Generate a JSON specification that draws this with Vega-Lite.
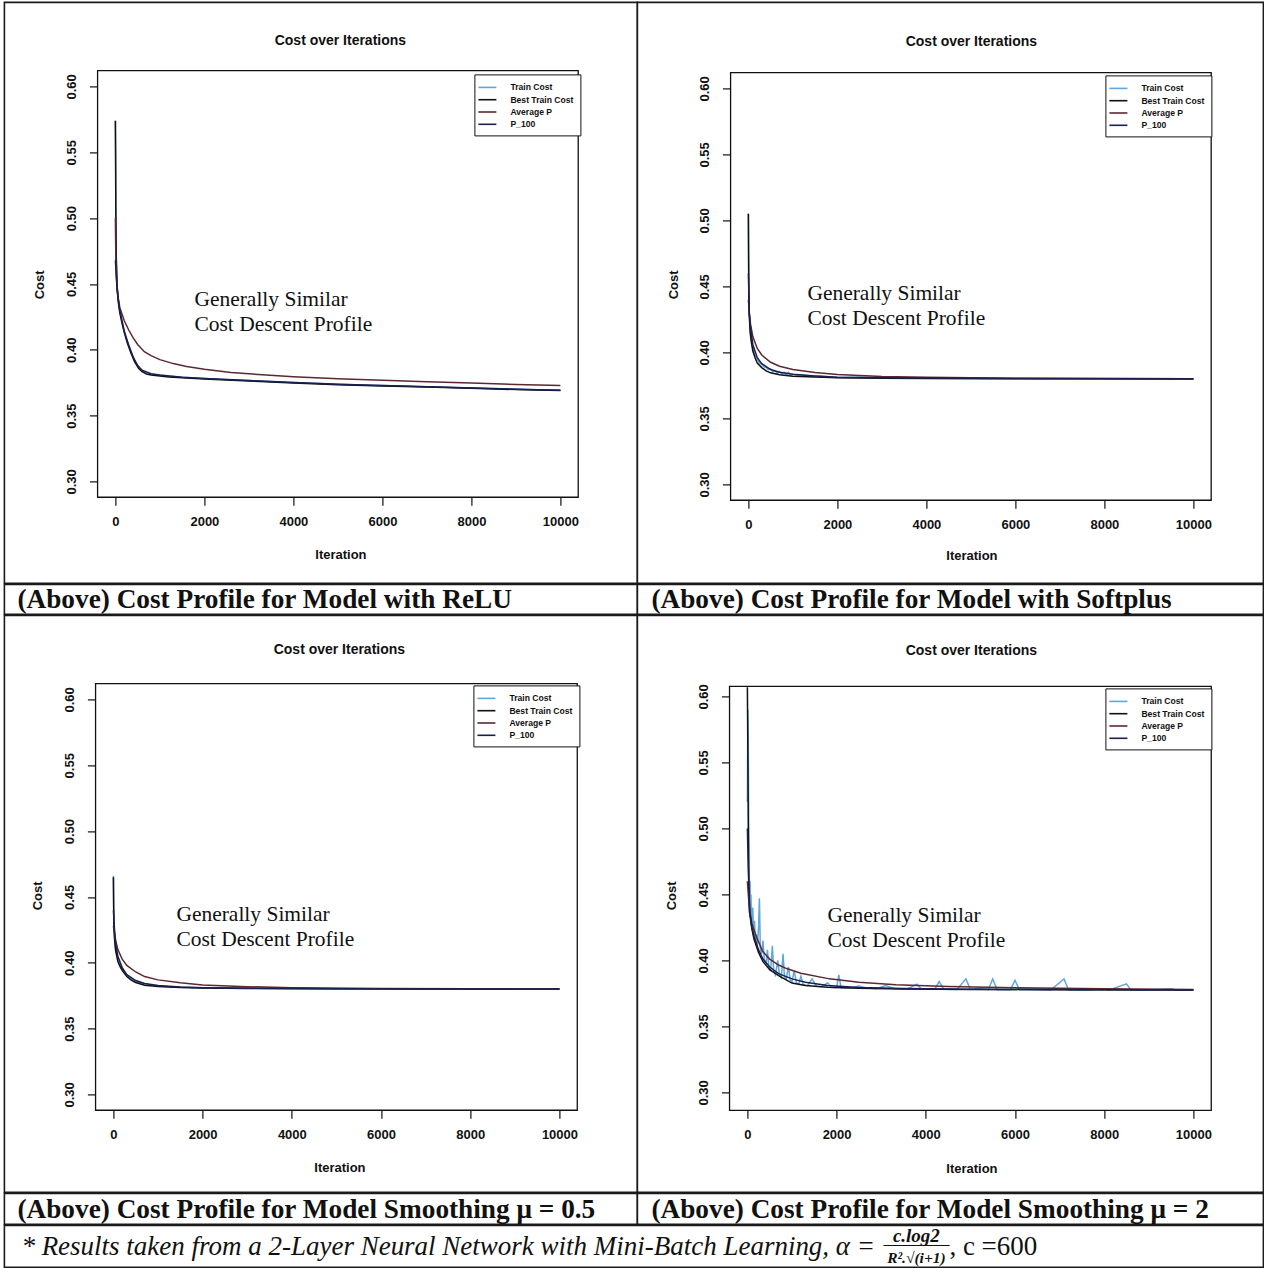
{
  "$schema": "https://vega.github.io/schema/vega-lite/v6.json",
  "padding": {"left": 3.4, "top": 1.4, "right": 0, "bottom": 0},
  "background": "white",
  "spacing": -3.2,
  "resolve": {"scale": {"color": "independent"}, "legend": {"color": "independent"}},
  "config": {
    "view": {"stroke": "#1a1a1a", "strokeWidth": 1.6, "fill": "white"},
    "axis": {"domain": false, "grid": false, "tickColor": "#111", "tickSize": 8, "tickWidth": 1.2, "labelColor": "#111", "labelFont": "Liberation Sans", "labelFontSize": 13, "labelFontWeight": "bold", "labelOverlap": false, "labelFlush": false, "labelBound": false, "titleColor": "#111", "titleFont": "Liberation Sans", "titleFontSize": 13, "titleFontWeight": "bold"},
    "axisX": {"labelPadding": 16, "labelBaseline": "middle", "labelAlign": "center", "labelAngle": 0, "titleBaseline": "middle", "titleAlign": "center"},
    "axisY": {"labelPadding": 18, "labelAngle": -90, "labelAlign": "center", "labelBaseline": "middle", "titleAngle": -90, "titleAlign": "center", "titleBaseline": "middle"},
    "legend": {"orient": "none", "title": null, "direction": "vertical", "strokeColor": "#111", "fillColor": "white", "padding": 6, "symbolType": "M-1.5,0H1.5", "symbolSize": 144, "symbolStrokeWidth": 1.6, "labelFontSize": 8.6, "labelFontWeight": "bold", "labelFont": "Liberation Sans", "labelColor": "#111", "labelOffset": 16, "rowPadding": 0.3},
    "title": {"font": "Liberation Sans", "fontSize": 14, "fontWeight": "bold", "color": "#111", "anchor": "middle", "frame": "group", "baseline": "middle"}
  },
  "vconcat": [
    {
      "hconcat": [
        {
          "width": 633, "height": 581,
          "title": {"text": "Cost over Iterations", "offset": -46, "dx": 19.5},
          "data": {"values": [
            {"series": "Train Cost", "iteration": 0, "cost": 0.574}, {"series": "Train Cost", "iteration": 5, "cost": 0.548}, {"series": "Train Cost", "iteration": 10, "cost": 0.506}, {"series": "Train Cost", "iteration": 20, "cost": 0.471}, {"series": "Train Cost", "iteration": 40, "cost": 0.448}, {"series": "Train Cost", "iteration": 70, "cost": 0.436}, {"series": "Train Cost", "iteration": 100, "cost": 0.429}, {"series": "Train Cost", "iteration": 150, "cost": 0.421}, {"series": "Train Cost", "iteration": 200, "cost": 0.414}, {"series": "Train Cost", "iteration": 270, "cost": 0.406}, {"series": "Train Cost", "iteration": 350, "cost": 0.3985}, {"series": "Train Cost", "iteration": 430, "cost": 0.392}, {"series": "Train Cost", "iteration": 520, "cost": 0.387}, {"series": "Train Cost", "iteration": 600, "cost": 0.384}, {"series": "Train Cost", "iteration": 700, "cost": 0.382}, {"series": "Train Cost", "iteration": 800, "cost": 0.3815}, {"series": "Train Cost", "iteration": 1000, "cost": 0.3806}, {"series": "Train Cost", "iteration": 1200, "cost": 0.3798}, {"series": "Train Cost", "iteration": 1500, "cost": 0.3791}, {"series": "Train Cost", "iteration": 2000, "cost": 0.3782}, {"series": "Train Cost", "iteration": 2600, "cost": 0.3773}, {"series": "Train Cost", "iteration": 3000, "cost": 0.3767}, {"series": "Train Cost", "iteration": 3500, "cost": 0.3759}, {"series": "Train Cost", "iteration": 4000, "cost": 0.3752}, {"series": "Train Cost", "iteration": 4500, "cost": 0.3745}, {"series": "Train Cost", "iteration": 5000, "cost": 0.3738}, {"series": "Train Cost", "iteration": 5500, "cost": 0.3733}, {"series": "Train Cost", "iteration": 6000, "cost": 0.3728}, {"series": "Train Cost", "iteration": 6500, "cost": 0.3724}, {"series": "Train Cost", "iteration": 7000, "cost": 0.372}, {"series": "Train Cost", "iteration": 7500, "cost": 0.3715}, {"series": "Train Cost", "iteration": 8000, "cost": 0.371}, {"series": "Train Cost", "iteration": 8500, "cost": 0.3705}, {"series": "Train Cost", "iteration": 9000, "cost": 0.3701}, {"series": "Train Cost", "iteration": 9500, "cost": 0.3696}, {"series": "Train Cost", "iteration": 10000, "cost": 0.3693},
            {"series": "Best Train Cost", "iteration": 0, "cost": 0.574}, {"series": "Best Train Cost", "iteration": 5, "cost": 0.546}, {"series": "Best Train Cost", "iteration": 10, "cost": 0.504}, {"series": "Best Train Cost", "iteration": 20, "cost": 0.469}, {"series": "Best Train Cost", "iteration": 40, "cost": 0.446}, {"series": "Best Train Cost", "iteration": 70, "cost": 0.435}, {"series": "Best Train Cost", "iteration": 100, "cost": 0.428}, {"series": "Best Train Cost", "iteration": 150, "cost": 0.42}, {"series": "Best Train Cost", "iteration": 200, "cost": 0.413}, {"series": "Best Train Cost", "iteration": 270, "cost": 0.405}, {"series": "Best Train Cost", "iteration": 350, "cost": 0.3975}, {"series": "Best Train Cost", "iteration": 430, "cost": 0.391}, {"series": "Best Train Cost", "iteration": 520, "cost": 0.386}, {"series": "Best Train Cost", "iteration": 600, "cost": 0.3833}, {"series": "Best Train Cost", "iteration": 700, "cost": 0.3815}, {"series": "Best Train Cost", "iteration": 800, "cost": 0.3808}, {"series": "Best Train Cost", "iteration": 1000, "cost": 0.38}, {"series": "Best Train Cost", "iteration": 1200, "cost": 0.3794}, {"series": "Best Train Cost", "iteration": 1500, "cost": 0.3787}, {"series": "Best Train Cost", "iteration": 2000, "cost": 0.3778}, {"series": "Best Train Cost", "iteration": 3000, "cost": 0.3763}, {"series": "Best Train Cost", "iteration": 4000, "cost": 0.3748}, {"series": "Best Train Cost", "iteration": 5000, "cost": 0.3735}, {"series": "Best Train Cost", "iteration": 6000, "cost": 0.3725}, {"series": "Best Train Cost", "iteration": 7000, "cost": 0.3717}, {"series": "Best Train Cost", "iteration": 8000, "cost": 0.3707}, {"series": "Best Train Cost", "iteration": 9000, "cost": 0.3698}, {"series": "Best Train Cost", "iteration": 10000, "cost": 0.369},
            {"series": "Average P", "iteration": 0, "cost": 0.5}, {"series": "Average P", "iteration": 10, "cost": 0.47}, {"series": "Average P", "iteration": 30, "cost": 0.452}, {"series": "Average P", "iteration": 60, "cost": 0.44}, {"series": "Average P", "iteration": 100, "cost": 0.432}, {"series": "Average P", "iteration": 200, "cost": 0.422}, {"series": "Average P", "iteration": 300, "cost": 0.415}, {"series": "Average P", "iteration": 400, "cost": 0.409}, {"series": "Average P", "iteration": 500, "cost": 0.404}, {"series": "Average P", "iteration": 650, "cost": 0.3985}, {"series": "Average P", "iteration": 800, "cost": 0.3955}, {"series": "Average P", "iteration": 1000, "cost": 0.3925}, {"series": "Average P", "iteration": 1300, "cost": 0.3895}, {"series": "Average P", "iteration": 1600, "cost": 0.3873}, {"series": "Average P", "iteration": 2000, "cost": 0.3852}, {"series": "Average P", "iteration": 2600, "cost": 0.3828}, {"series": "Average P", "iteration": 3300, "cost": 0.381}, {"series": "Average P", "iteration": 4000, "cost": 0.3795}, {"series": "Average P", "iteration": 5000, "cost": 0.378}, {"series": "Average P", "iteration": 6000, "cost": 0.3768}, {"series": "Average P", "iteration": 7000, "cost": 0.3757}, {"series": "Average P", "iteration": 8000, "cost": 0.3747}, {"series": "Average P", "iteration": 9000, "cost": 0.3737}, {"series": "Average P", "iteration": 10000, "cost": 0.3728},
            {"series": "P_100", "iteration": 0, "cost": 0.468}, {"series": "P_100", "iteration": 20, "cost": 0.455}, {"series": "P_100", "iteration": 50, "cost": 0.442}, {"series": "P_100", "iteration": 100, "cost": 0.43}, {"series": "P_100", "iteration": 200, "cost": 0.414}, {"series": "P_100", "iteration": 300, "cost": 0.4035}, {"series": "P_100", "iteration": 400, "cost": 0.3945}, {"series": "P_100", "iteration": 500, "cost": 0.388}, {"series": "P_100", "iteration": 600, "cost": 0.3845}, {"series": "P_100", "iteration": 800, "cost": 0.3818}, {"series": "P_100", "iteration": 1000, "cost": 0.3808}, {"series": "P_100", "iteration": 1500, "cost": 0.3792}, {"series": "P_100", "iteration": 2000, "cost": 0.3782}, {"series": "P_100", "iteration": 3000, "cost": 0.3766}, {"series": "P_100", "iteration": 4000, "cost": 0.3751}, {"series": "P_100", "iteration": 5000, "cost": 0.3738}, {"series": "P_100", "iteration": 6000, "cost": 0.3728}, {"series": "P_100", "iteration": 7000, "cost": 0.3719}, {"series": "P_100", "iteration": 8000, "cost": 0.371}, {"series": "P_100", "iteration": 9000, "cost": 0.3701}, {"series": "P_100", "iteration": 10000, "cost": 0.3693}
          ]},
          "layer": [
            {
              "mark": {"type": "line", "strokeWidth": 1.5},
              "encoding": {
                "x": {"field": "iteration", "type": "quantitative", "scale": {"domain": [-2494, 11730], "nice": false, "zero": false}, "axis": {"title": "Iteration", "values": [0, 2000, 4000, 6000, 8000, 10000], "format": "d", "offset": -86.15, "titleX": 336, "titleY": 57}},
                "y": {"field": "cost", "type": "quantitative", "scale": {"domain": [0.22258, 0.6638], "nice": false, "zero": false}, "axis": {"title": "Cost", "values": [0.3, 0.35, 0.4, 0.45, 0.5, 0.55, 0.6], "format": ".2f", "offset": -93, "titleX": -58, "titleY": 282}},
                "color": {"field": "series", "type": "nominal", "scale": {"domain": ["Train Cost", "Best Train Cost", "Average P", "P_100"], "range": ["#5ea7dc", "#111111", "#5c2830", "#1b1f4f"]}, "legend": {"legendX": 470, "legendY": 72}}
              }
            },
            {
              "data": {"values": [{}]},
              "mark": {"type": "rect", "fill": "white", "fillOpacity": 0, "stroke": "#111", "strokeWidth": 1.3},
              "encoding": {
                "x": {"datum": -400, "type": "quantitative", "scale": {"domain": [-2494, 11730], "nice": false, "zero": false}, "axis": {"title": "Iteration", "values": [0, 2000, 4000, 6000, 8000, 10000], "format": "d", "offset": -86.15, "titleX": 336, "titleY": 57}},
                "x2": {"datum": 10400},
                "y": {"datum": 0.288, "type": "quantitative", "scale": {"domain": [0.22258, 0.6638], "nice": false, "zero": false}, "axis": {"title": "Cost", "values": [0.3, 0.35, 0.4, 0.45, 0.5, 0.55, 0.6], "format": ".2f", "offset": -93, "titleX": -58, "titleY": 282}},
                "y2": {"datum": 0.612}
              }
            },
            {
              "data": {"values": [{}]},
              "mark": {"type": "text", "align": "left", "baseline": "top", "font": "Liberation Serif", "fontSize": 21.5, "lineHeight": 25, "color": "#111"},
              "encoding": {
                "x": {"datum": 1775, "type": "quantitative", "scale": {"domain": [-2494, 11730], "nice": false, "zero": false}, "axis": {"title": "Iteration", "values": [0, 2000, 4000, 6000, 8000, 10000], "format": "d", "offset": -86.15, "titleX": 336, "titleY": 57}},
                "y": {"datum": 0.4462, "type": "quantitative", "scale": {"domain": [0.22258, 0.6638], "nice": false, "zero": false}, "axis": {"title": "Cost", "values": [0.3, 0.35, 0.4, 0.45, 0.5, 0.55, 0.6], "format": ".2f", "offset": -93, "titleX": -58, "titleY": 282}},
                "text": {"value": ["Generally Similar", "Cost Descent Profile"]}
              }
            }
          ]
        },
        {
          "width": 626, "height": 581,
          "title": {"text": "Cost over Iterations", "offset": -47, "dx": 21},
          "data": {"values": [
            {"series": "Train Cost", "iteration": 0, "cost": 0.505}, {"series": "Train Cost", "iteration": 5, "cost": 0.475}, {"series": "Train Cost", "iteration": 10, "cost": 0.45}, {"series": "Train Cost", "iteration": 20, "cost": 0.43}, {"series": "Train Cost", "iteration": 40, "cost": 0.418}, {"series": "Train Cost", "iteration": 70, "cost": 0.409}, {"series": "Train Cost", "iteration": 100, "cost": 0.404}, {"series": "Train Cost", "iteration": 150, "cost": 0.398}, {"series": "Train Cost", "iteration": 200, "cost": 0.395}, {"series": "Train Cost", "iteration": 250, "cost": 0.392}, {"series": "Train Cost", "iteration": 300, "cost": 0.391}, {"series": "Train Cost", "iteration": 350, "cost": 0.389}, {"series": "Train Cost", "iteration": 400, "cost": 0.3885}, {"series": "Train Cost", "iteration": 450, "cost": 0.387}, {"series": "Train Cost", "iteration": 500, "cost": 0.3875}, {"series": "Train Cost", "iteration": 550, "cost": 0.3855}, {"series": "Train Cost", "iteration": 600, "cost": 0.386}, {"series": "Train Cost", "iteration": 650, "cost": 0.384}, {"series": "Train Cost", "iteration": 700, "cost": 0.3855}, {"series": "Train Cost", "iteration": 750, "cost": 0.3838}, {"series": "Train Cost", "iteration": 800, "cost": 0.385}, {"series": "Train Cost", "iteration": 850, "cost": 0.3832}, {"series": "Train Cost", "iteration": 900, "cost": 0.3848}, {"series": "Train Cost", "iteration": 950, "cost": 0.3828}, {"series": "Train Cost", "iteration": 1000, "cost": 0.3835}, {"series": "Train Cost", "iteration": 1100, "cost": 0.3825}, {"series": "Train Cost", "iteration": 1200, "cost": 0.383}, {"series": "Train Cost", "iteration": 1400, "cost": 0.3818}, {"series": "Train Cost", "iteration": 1600, "cost": 0.3822}, {"series": "Train Cost", "iteration": 2000, "cost": 0.381}, {"series": "Train Cost", "iteration": 2500, "cost": 0.3812}, {"series": "Train Cost", "iteration": 3000, "cost": 0.3806}, {"series": "Train Cost", "iteration": 4000, "cost": 0.3805}, {"series": "Train Cost", "iteration": 5000, "cost": 0.3803}, {"series": "Train Cost", "iteration": 6000, "cost": 0.3802}, {"series": "Train Cost", "iteration": 8000, "cost": 0.3801}, {"series": "Train Cost", "iteration": 10000, "cost": 0.38},
            {"series": "Best Train Cost", "iteration": 0, "cost": 0.505}, {"series": "Best Train Cost", "iteration": 5, "cost": 0.47}, {"series": "Best Train Cost", "iteration": 10, "cost": 0.445}, {"series": "Best Train Cost", "iteration": 20, "cost": 0.428}, {"series": "Best Train Cost", "iteration": 40, "cost": 0.415}, {"series": "Best Train Cost", "iteration": 70, "cost": 0.407}, {"series": "Best Train Cost", "iteration": 100, "cost": 0.401}, {"series": "Best Train Cost", "iteration": 150, "cost": 0.396}, {"series": "Best Train Cost", "iteration": 200, "cost": 0.392}, {"series": "Best Train Cost", "iteration": 300, "cost": 0.3885}, {"series": "Best Train Cost", "iteration": 400, "cost": 0.386}, {"series": "Best Train Cost", "iteration": 500, "cost": 0.3845}, {"series": "Best Train Cost", "iteration": 700, "cost": 0.383}, {"series": "Best Train Cost", "iteration": 1000, "cost": 0.382}, {"series": "Best Train Cost", "iteration": 1500, "cost": 0.3813}, {"series": "Best Train Cost", "iteration": 2000, "cost": 0.3808}, {"series": "Best Train Cost", "iteration": 3000, "cost": 0.3805}, {"series": "Best Train Cost", "iteration": 4000, "cost": 0.3803}, {"series": "Best Train Cost", "iteration": 6000, "cost": 0.3801}, {"series": "Best Train Cost", "iteration": 8000, "cost": 0.38}, {"series": "Best Train Cost", "iteration": 10000, "cost": 0.3799},
            {"series": "Average P", "iteration": 0, "cost": 0.44}, {"series": "Average P", "iteration": 20, "cost": 0.43}, {"series": "Average P", "iteration": 50, "cost": 0.421}, {"series": "Average P", "iteration": 100, "cost": 0.412}, {"series": "Average P", "iteration": 200, "cost": 0.403}, {"series": "Average P", "iteration": 300, "cost": 0.398}, {"series": "Average P", "iteration": 500, "cost": 0.3925}, {"series": "Average P", "iteration": 700, "cost": 0.3895}, {"series": "Average P", "iteration": 1000, "cost": 0.387}, {"series": "Average P", "iteration": 1500, "cost": 0.3848}, {"series": "Average P", "iteration": 2000, "cost": 0.3833}, {"series": "Average P", "iteration": 3000, "cost": 0.3818}, {"series": "Average P", "iteration": 4000, "cost": 0.3811}, {"series": "Average P", "iteration": 6000, "cost": 0.3805}, {"series": "Average P", "iteration": 8000, "cost": 0.3802}, {"series": "Average P", "iteration": 10000, "cost": 0.38},
            {"series": "P_100", "iteration": 0, "cost": 0.46}, {"series": "P_100", "iteration": 20, "cost": 0.43}, {"series": "P_100", "iteration": 50, "cost": 0.418}, {"series": "P_100", "iteration": 100, "cost": 0.406}, {"series": "P_100", "iteration": 200, "cost": 0.396}, {"series": "P_100", "iteration": 300, "cost": 0.3915}, {"series": "P_100", "iteration": 500, "cost": 0.387}, {"series": "P_100", "iteration": 700, "cost": 0.385}, {"series": "P_100", "iteration": 1000, "cost": 0.3835}, {"series": "P_100", "iteration": 1500, "cost": 0.3822}, {"series": "P_100", "iteration": 2000, "cost": 0.3812}, {"series": "P_100", "iteration": 3000, "cost": 0.3807}, {"series": "P_100", "iteration": 5000, "cost": 0.3804}, {"series": "P_100", "iteration": 10000, "cost": 0.38}
          ]},
          "layer": [
            {
              "mark": {"type": "line", "strokeWidth": 1.5},
              "encoding": {
                "x": {"field": "iteration", "type": "quantitative", "scale": {"domain": [-2494, 11573], "nice": false, "zero": false}, "axis": {"title": "Iteration", "values": [0, 2000, 4000, 6000, 8000, 10000], "format": "d", "offset": -83.16, "titleX": 334, "titleY": 55}},
                "y": {"field": "cost", "type": "quantitative", "scale": {"domain": [0.225, 0.66515], "nice": false, "zero": false}, "axis": {"title": "Cost", "values": [0.3, 0.35, 0.4, 0.45, 0.5, 0.55, 0.6], "format": ".2f", "offset": -93, "titleX": -57, "titleY": 282}},
                "color": {"field": "series", "type": "nominal", "scale": {"domain": ["Train Cost", "Best Train Cost", "Average P", "P_100"], "range": ["#5ea7dc", "#111111", "#5c2830", "#1b1f4f"]}, "legend": {"legendX": 468, "legendY": 73}}
              }
            },
            {
              "data": {"values": [{}]},
              "mark": {"type": "rect", "fill": "white", "fillOpacity": 0, "stroke": "#111", "strokeWidth": 1.3},
              "encoding": {
                "x": {"datum": -400, "type": "quantitative", "scale": {"domain": [-2494, 11573], "nice": false, "zero": false}, "axis": {"title": "Iteration", "values": [0, 2000, 4000, 6000, 8000, 10000], "format": "d", "offset": -83.16, "titleX": 334, "titleY": 55}},
                "x2": {"datum": 10400},
                "y": {"datum": 0.288, "type": "quantitative", "scale": {"domain": [0.225, 0.66515], "nice": false, "zero": false}, "axis": {"title": "Cost", "values": [0.3, 0.35, 0.4, 0.45, 0.5, 0.55, 0.6], "format": ".2f", "offset": -93, "titleX": -57, "titleY": 282}},
                "y2": {"datum": 0.612}
              }
            },
            {
              "data": {"values": [{}]},
              "mark": {"type": "text", "align": "left", "baseline": "top", "font": "Liberation Serif", "fontSize": 21.5, "lineHeight": 25, "color": "#111"},
              "encoding": {
                "x": {"datum": 1326, "type": "quantitative", "scale": {"domain": [-2494, 11573], "nice": false, "zero": false}, "axis": {"title": "Iteration", "values": [0, 2000, 4000, 6000, 8000, 10000], "format": "d", "offset": -83.16, "titleX": 334, "titleY": 55}},
                "y": {"datum": 0.4523, "type": "quantitative", "scale": {"domain": [0.225, 0.66515], "nice": false, "zero": false}, "axis": {"title": "Cost", "values": [0.3, 0.35, 0.4, 0.45, 0.5, 0.55, 0.6], "format": ".2f", "offset": -93, "titleX": -57, "titleY": 282}},
                "text": {"value": ["Generally Similar", "Cost Descent Profile"]}
              }
            }
          ]
        }
      ],
      "spacing": 0, "bounds": "flush",
      "resolve": {"scale": {"color": "independent"}, "legend": {"color": "independent"}}
    },
    {
      "hconcat": [
        {
          "width": 633, "height": 30,
          "view": {"stroke": "#1a1a1a", "strokeWidth": 1.6, "fill": "white"},
          "data": {"values": [{"caption": "(Above) Cost Profile for Model with ReLU"}]},
          "mark": {"type": "text", "align": "left", "baseline": "middle", "dx": -303.5, "dy": 1, "font": "Liberation Serif", "fontSize": 27.3, "fontWeight": "bold", "color": "#111"},
          "encoding": {"text": {"field": "caption", "type": "nominal"}}
        },
        {
          "width": 626, "height": 30,
          "view": {"stroke": "#1a1a1a", "strokeWidth": 1.6, "fill": "white"},
          "data": {"values": [{"caption": "(Above) Cost Profile for Model with Softplus"}]},
          "mark": {"type": "text", "align": "left", "baseline": "middle", "dx": -299, "dy": 1, "font": "Liberation Serif", "fontSize": 27.3, "fontWeight": "bold", "color": "#111"},
          "encoding": {"text": {"field": "caption", "type": "nominal"}}
        }
      ],
      "spacing": 0, "bounds": "flush"
    },
    {
      "hconcat": [
        {
          "width": 633, "height": 577,
          "title": {"text": "Cost over Iterations", "offset": -42, "dx": 18.5},
          "data": {"values": [
            {"series": "Train Cost", "iteration": 0, "cost": 0.466}, {"series": "Train Cost", "iteration": 5, "cost": 0.447}, {"series": "Train Cost", "iteration": 10, "cost": 0.433}, {"series": "Train Cost", "iteration": 25, "cost": 0.42}, {"series": "Train Cost", "iteration": 50, "cost": 0.411}, {"series": "Train Cost", "iteration": 100, "cost": 0.403}, {"series": "Train Cost", "iteration": 150, "cost": 0.3985}, {"series": "Train Cost", "iteration": 200, "cost": 0.3955}, {"series": "Train Cost", "iteration": 250, "cost": 0.393}, {"series": "Train Cost", "iteration": 300, "cost": 0.391}, {"series": "Train Cost", "iteration": 400, "cost": 0.388}, {"series": "Train Cost", "iteration": 500, "cost": 0.3862}, {"series": "Train Cost", "iteration": 600, "cost": 0.3848}, {"series": "Train Cost", "iteration": 700, "cost": 0.384}, {"series": "Train Cost", "iteration": 850, "cost": 0.3832}, {"series": "Train Cost", "iteration": 1000, "cost": 0.3826}, {"series": "Train Cost", "iteration": 1250, "cost": 0.3818}, {"series": "Train Cost", "iteration": 1500, "cost": 0.3815}, {"series": "Train Cost", "iteration": 2000, "cost": 0.381}, {"series": "Train Cost", "iteration": 3000, "cost": 0.3806}, {"series": "Train Cost", "iteration": 4000, "cost": 0.3804}, {"series": "Train Cost", "iteration": 5000, "cost": 0.3803}, {"series": "Train Cost", "iteration": 7000, "cost": 0.3802}, {"series": "Train Cost", "iteration": 10000, "cost": 0.3801},
            {"series": "Best Train Cost", "iteration": 0, "cost": 0.465}, {"series": "Best Train Cost", "iteration": 5, "cost": 0.445}, {"series": "Best Train Cost", "iteration": 10, "cost": 0.43}, {"series": "Best Train Cost", "iteration": 25, "cost": 0.418}, {"series": "Best Train Cost", "iteration": 50, "cost": 0.409}, {"series": "Best Train Cost", "iteration": 100, "cost": 0.401}, {"series": "Best Train Cost", "iteration": 150, "cost": 0.397}, {"series": "Best Train Cost", "iteration": 200, "cost": 0.394}, {"series": "Best Train Cost", "iteration": 300, "cost": 0.3895}, {"series": "Best Train Cost", "iteration": 400, "cost": 0.3868}, {"series": "Best Train Cost", "iteration": 500, "cost": 0.385}, {"series": "Best Train Cost", "iteration": 700, "cost": 0.383}, {"series": "Best Train Cost", "iteration": 1000, "cost": 0.382}, {"series": "Best Train Cost", "iteration": 1500, "cost": 0.3812}, {"series": "Best Train Cost", "iteration": 2000, "cost": 0.3808}, {"series": "Best Train Cost", "iteration": 3000, "cost": 0.3805}, {"series": "Best Train Cost", "iteration": 5000, "cost": 0.3802}, {"series": "Best Train Cost", "iteration": 7000, "cost": 0.3801}, {"series": "Best Train Cost", "iteration": 10000, "cost": 0.38},
            {"series": "Average P", "iteration": 0, "cost": 0.428}, {"series": "Average P", "iteration": 50, "cost": 0.417}, {"series": "Average P", "iteration": 100, "cost": 0.41}, {"series": "Average P", "iteration": 200, "cost": 0.4025}, {"series": "Average P", "iteration": 300, "cost": 0.398}, {"series": "Average P", "iteration": 500, "cost": 0.393}, {"series": "Average P", "iteration": 700, "cost": 0.3895}, {"series": "Average P", "iteration": 1000, "cost": 0.387}, {"series": "Average P", "iteration": 1500, "cost": 0.3848}, {"series": "Average P", "iteration": 2000, "cost": 0.3832}, {"series": "Average P", "iteration": 3000, "cost": 0.3818}, {"series": "Average P", "iteration": 4000, "cost": 0.3811}, {"series": "Average P", "iteration": 6000, "cost": 0.3805}, {"series": "Average P", "iteration": 8000, "cost": 0.3803}, {"series": "Average P", "iteration": 10000, "cost": 0.3802},
            {"series": "P_100", "iteration": 0, "cost": 0.44}, {"series": "P_100", "iteration": 25, "cost": 0.425}, {"series": "P_100", "iteration": 50, "cost": 0.415}, {"series": "P_100", "iteration": 100, "cost": 0.405}, {"series": "P_100", "iteration": 200, "cost": 0.396}, {"series": "P_100", "iteration": 300, "cost": 0.391}, {"series": "P_100", "iteration": 500, "cost": 0.3865}, {"series": "P_100", "iteration": 700, "cost": 0.3842}, {"series": "P_100", "iteration": 1000, "cost": 0.3828}, {"series": "P_100", "iteration": 1500, "cost": 0.3816}, {"series": "P_100", "iteration": 2000, "cost": 0.381}, {"series": "P_100", "iteration": 3000, "cost": 0.3806}, {"series": "P_100", "iteration": 5000, "cost": 0.3803}, {"series": "P_100", "iteration": 10000, "cost": 0.3801}
          ]},
          "layer": [
            {
              "mark": {"type": "line", "strokeWidth": 1.5},
              "encoding": {
                "x": {"field": "iteration", "type": "quantitative", "scale": {"domain": [-2444, 11748], "nice": false, "zero": false}, "axis": {"title": "Iteration", "values": [0, 2000, 4000, 6000, 8000, 10000], "format": "d", "offset": -82.15, "titleX": 335, "titleY": 57}},
                "y": {"field": "cost", "type": "quantitative", "scale": {"domain": [0.22562, 0.6638], "nice": false, "zero": false}, "axis": {"title": "Cost", "values": [0.3, 0.35, 0.4, 0.45, 0.5, 0.55, 0.6], "format": ".2f", "offset": -91, "titleX": -58, "titleY": 280}},
                "color": {"field": "series", "type": "nominal", "scale": {"domain": ["Train Cost", "Best Train Cost", "Average P", "P_100"], "range": ["#5ea7dc", "#111111", "#5c2830", "#1b1f4f"]}, "legend": {"legendX": 469, "legendY": 70}}
              }
            },
            {
              "data": {"values": [{}]},
              "mark": {"type": "rect", "fill": "white", "fillOpacity": 0, "stroke": "#111", "strokeWidth": 1.3},
              "encoding": {
                "x": {"datum": -400, "type": "quantitative", "scale": {"domain": [-2444, 11748], "nice": false, "zero": false}, "axis": {"title": "Iteration", "values": [0, 2000, 4000, 6000, 8000, 10000], "format": "d", "offset": -82.15, "titleX": 335, "titleY": 57}},
                "x2": {"datum": 10400},
                "y": {"datum": 0.288, "type": "quantitative", "scale": {"domain": [0.22562, 0.6638], "nice": false, "zero": false}, "axis": {"title": "Cost", "values": [0.3, 0.35, 0.4, 0.45, 0.5, 0.55, 0.6], "format": ".2f", "offset": -91, "titleX": -58, "titleY": 280}},
                "y2": {"datum": 0.612}
              }
            },
            {
              "data": {"values": [{}]},
              "mark": {"type": "text", "align": "left", "baseline": "top", "font": "Liberation Serif", "fontSize": 21.5, "lineHeight": 25, "color": "#111"},
              "encoding": {
                "x": {"datum": 1412, "type": "quantitative", "scale": {"domain": [-2444, 11748], "nice": false, "zero": false}, "axis": {"title": "Iteration", "values": [0, 2000, 4000, 6000, 8000, 10000], "format": "d", "offset": -82.15, "titleX": 335, "titleY": 57}},
                "y": {"datum": 0.4447, "type": "quantitative", "scale": {"domain": [0.22562, 0.6638], "nice": false, "zero": false}, "axis": {"title": "Cost", "values": [0.3, 0.35, 0.4, 0.45, 0.5, 0.55, 0.6], "format": ".2f", "offset": -91, "titleX": -58, "titleY": 280}},
                "text": {"value": ["Generally Similar", "Cost Descent Profile"]}
              }
            }
          ]
        },
        {
          "width": 626, "height": 577,
          "title": {"text": "Cost over Iterations", "offset": -43, "dx": 21},
          "data": {"values": [
            {"series": "Train Cost", "iteration": 0, "cost": 0.52}, {"series": "Train Cost", "iteration": 10, "cost": 0.59}, {"series": "Train Cost", "iteration": 20, "cost": 0.57}, {"series": "Train Cost", "iteration": 30, "cost": 0.5}, {"series": "Train Cost", "iteration": 40, "cost": 0.47}, {"series": "Train Cost", "iteration": 50, "cost": 0.445}, {"series": "Train Cost", "iteration": 60, "cost": 0.46}, {"series": "Train Cost", "iteration": 70, "cost": 0.435}, {"series": "Train Cost", "iteration": 80, "cost": 0.45}, {"series": "Train Cost", "iteration": 90, "cost": 0.43}, {"series": "Train Cost", "iteration": 100, "cost": 0.425}, {"series": "Train Cost", "iteration": 120, "cost": 0.44}, {"series": "Train Cost", "iteration": 140, "cost": 0.418}, {"series": "Train Cost", "iteration": 160, "cost": 0.43}, {"series": "Train Cost", "iteration": 180, "cost": 0.415}, {"series": "Train Cost", "iteration": 200, "cost": 0.42}, {"series": "Train Cost", "iteration": 220, "cost": 0.41}, {"series": "Train Cost", "iteration": 250, "cost": 0.425}, {"series": "Train Cost", "iteration": 270, "cost": 0.447}, {"series": "Train Cost", "iteration": 290, "cost": 0.408}, {"series": "Train Cost", "iteration": 320, "cost": 0.405}, {"series": "Train Cost", "iteration": 350, "cost": 0.415}, {"series": "Train Cost", "iteration": 380, "cost": 0.4}, {"series": "Train Cost", "iteration": 420, "cost": 0.398}, {"series": "Train Cost", "iteration": 450, "cost": 0.408}, {"series": "Train Cost", "iteration": 480, "cost": 0.395}, {"series": "Train Cost", "iteration": 520, "cost": 0.392}, {"series": "Train Cost", "iteration": 560, "cost": 0.411}, {"series": "Train Cost", "iteration": 590, "cost": 0.392}, {"series": "Train Cost", "iteration": 630, "cost": 0.389}, {"series": "Train Cost", "iteration": 680, "cost": 0.4}, {"series": "Train Cost", "iteration": 720, "cost": 0.389}, {"series": "Train Cost", "iteration": 760, "cost": 0.387}, {"series": "Train Cost", "iteration": 800, "cost": 0.405}, {"series": "Train Cost", "iteration": 830, "cost": 0.388}, {"series": "Train Cost", "iteration": 870, "cost": 0.386}, {"series": "Train Cost", "iteration": 920, "cost": 0.395}, {"series": "Train Cost", "iteration": 960, "cost": 0.385}, {"series": "Train Cost", "iteration": 1000, "cost": 0.384}, {"series": "Train Cost", "iteration": 1050, "cost": 0.392}, {"series": "Train Cost", "iteration": 1100, "cost": 0.383}, {"series": "Train Cost", "iteration": 1150, "cost": 0.382}, {"series": "Train Cost", "iteration": 1200, "cost": 0.388}, {"series": "Train Cost", "iteration": 1250, "cost": 0.3815}, {"series": "Train Cost", "iteration": 1350, "cost": 0.381}, {"series": "Train Cost", "iteration": 1450, "cost": 0.386}, {"series": "Train Cost", "iteration": 1550, "cost": 0.3805}, {"series": "Train Cost", "iteration": 1650, "cost": 0.38}, {"series": "Train Cost", "iteration": 1800, "cost": 0.383}, {"series": "Train Cost", "iteration": 1900, "cost": 0.3795}, {"series": "Train Cost", "iteration": 2000, "cost": 0.3795}, {"series": "Train Cost", "iteration": 2050, "cost": 0.389}, {"series": "Train Cost", "iteration": 2100, "cost": 0.3792}, {"series": "Train Cost", "iteration": 2300, "cost": 0.379}, {"series": "Train Cost", "iteration": 2500, "cost": 0.3805}, {"series": "Train Cost", "iteration": 2700, "cost": 0.379}, {"series": "Train Cost", "iteration": 2900, "cost": 0.3785}, {"series": "Train Cost", "iteration": 3100, "cost": 0.381}, {"series": "Train Cost", "iteration": 3300, "cost": 0.3785}, {"series": "Train Cost", "iteration": 3600, "cost": 0.3785}, {"series": "Train Cost", "iteration": 3800, "cost": 0.382}, {"series": "Train Cost", "iteration": 3900, "cost": 0.3783}, {"series": "Train Cost", "iteration": 4200, "cost": 0.3782}, {"series": "Train Cost", "iteration": 4300, "cost": 0.384}, {"series": "Train Cost", "iteration": 4400, "cost": 0.3782}, {"series": "Train Cost", "iteration": 4700, "cost": 0.378}, {"series": "Train Cost", "iteration": 4900, "cost": 0.386}, {"series": "Train Cost", "iteration": 5000, "cost": 0.378}, {"series": "Train Cost", "iteration": 5200, "cost": 0.379}, {"series": "Train Cost", "iteration": 5400, "cost": 0.3778}, {"series": "Train Cost", "iteration": 5500, "cost": 0.386}, {"series": "Train Cost", "iteration": 5600, "cost": 0.3778}, {"series": "Train Cost", "iteration": 5900, "cost": 0.3778}, {"series": "Train Cost", "iteration": 6000, "cost": 0.385}, {"series": "Train Cost", "iteration": 6100, "cost": 0.3777}, {"series": "Train Cost", "iteration": 6500, "cost": 0.3778}, {"series": "Train Cost", "iteration": 6800, "cost": 0.3776}, {"series": "Train Cost", "iteration": 7100, "cost": 0.386}, {"series": "Train Cost", "iteration": 7200, "cost": 0.3776}, {"series": "Train Cost", "iteration": 7600, "cost": 0.3776}, {"series": "Train Cost", "iteration": 8000, "cost": 0.3785}, {"series": "Train Cost", "iteration": 8100, "cost": 0.3775}, {"series": "Train Cost", "iteration": 8500, "cost": 0.3822}, {"series": "Train Cost", "iteration": 8600, "cost": 0.3775}, {"series": "Train Cost", "iteration": 9000, "cost": 0.3775}, {"series": "Train Cost", "iteration": 9500, "cost": 0.3785}, {"series": "Train Cost", "iteration": 9600, "cost": 0.3775}, {"series": "Train Cost", "iteration": 10000, "cost": 0.3775},
            {"series": "Best Train Cost", "iteration": 0, "cost": 0.607}, {"series": "Best Train Cost", "iteration": 10, "cost": 0.56}, {"series": "Best Train Cost", "iteration": 20, "cost": 0.505}, {"series": "Best Train Cost", "iteration": 30, "cost": 0.46}, {"series": "Best Train Cost", "iteration": 50, "cost": 0.436}, {"series": "Best Train Cost", "iteration": 100, "cost": 0.424}, {"series": "Best Train Cost", "iteration": 150, "cost": 0.416}, {"series": "Best Train Cost", "iteration": 250, "cost": 0.406}, {"series": "Best Train Cost", "iteration": 350, "cost": 0.399}, {"series": "Best Train Cost", "iteration": 500, "cost": 0.393}, {"series": "Best Train Cost", "iteration": 700, "cost": 0.3885}, {"series": "Best Train Cost", "iteration": 1000, "cost": 0.3828}, {"series": "Best Train Cost", "iteration": 1300, "cost": 0.381}, {"series": "Best Train Cost", "iteration": 1800, "cost": 0.3797}, {"series": "Best Train Cost", "iteration": 2500, "cost": 0.3788}, {"series": "Best Train Cost", "iteration": 3500, "cost": 0.3783}, {"series": "Best Train Cost", "iteration": 5000, "cost": 0.378}, {"series": "Best Train Cost", "iteration": 7000, "cost": 0.3778}, {"series": "Best Train Cost", "iteration": 10000, "cost": 0.3775},
            {"series": "Average P", "iteration": 0, "cost": 0.46}, {"series": "Average P", "iteration": 50, "cost": 0.436}, {"series": "Average P", "iteration": 100, "cost": 0.428}, {"series": "Average P", "iteration": 200, "cost": 0.418}, {"series": "Average P", "iteration": 340, "cost": 0.407}, {"series": "Average P", "iteration": 500, "cost": 0.401}, {"series": "Average P", "iteration": 700, "cost": 0.3965}, {"series": "Average P", "iteration": 880, "cost": 0.3938}, {"series": "Average P", "iteration": 1200, "cost": 0.3903}, {"series": "Average P", "iteration": 1840, "cost": 0.386}, {"series": "Average P", "iteration": 2500, "cost": 0.3835}, {"series": "Average P", "iteration": 3330, "cost": 0.3815}, {"series": "Average P", "iteration": 4500, "cost": 0.3802}, {"series": "Average P", "iteration": 6000, "cost": 0.3792}, {"series": "Average P", "iteration": 8000, "cost": 0.3785}, {"series": "Average P", "iteration": 10000, "cost": 0.378},
            {"series": "P_100", "iteration": 0, "cost": 0.5}, {"series": "P_100", "iteration": 20, "cost": 0.47}, {"series": "P_100", "iteration": 50, "cost": 0.44}, {"series": "P_100", "iteration": 100, "cost": 0.425}, {"series": "P_100", "iteration": 150, "cost": 0.418}, {"series": "P_100", "iteration": 250, "cost": 0.408}, {"series": "P_100", "iteration": 350, "cost": 0.401}, {"series": "P_100", "iteration": 500, "cost": 0.395}, {"series": "P_100", "iteration": 700, "cost": 0.39}, {"series": "P_100", "iteration": 1000, "cost": 0.386}, {"series": "P_100", "iteration": 1300, "cost": 0.3835}, {"series": "P_100", "iteration": 1800, "cost": 0.381}, {"series": "P_100", "iteration": 2500, "cost": 0.3795}, {"series": "P_100", "iteration": 3500, "cost": 0.3787}, {"series": "P_100", "iteration": 5000, "cost": 0.3782}, {"series": "P_100", "iteration": 7000, "cost": 0.3779}, {"series": "P_100", "iteration": 10000, "cost": 0.3776}
          ]},
          "layer": [
            {
              "mark": {"type": "line", "strokeWidth": 1.5},
              "encoding": {
                "x": {"field": "iteration", "type": "quantitative", "scale": {"domain": [-2466, 11569], "nice": false, "zero": false}, "axis": {"title": "Iteration", "values": [0, 2000, 4000, 6000, 8000, 10000], "format": "d", "offset": -82.05, "titleX": 334, "titleY": 58}},
                "y": {"field": "cost", "type": "quantitative", "scale": {"domain": [0.22424, 0.66136], "nice": false, "zero": false}, "axis": {"title": "Cost", "values": [0.3, 0.35, 0.4, 0.45, 0.5, 0.55, 0.6], "format": ".2f", "offset": -92, "titleX": -58, "titleY": 280}},
                "color": {"field": "series", "type": "nominal", "scale": {"domain": ["Train Cost", "Best Train Cost", "Average P", "P_100"], "range": ["#5ea7dc", "#111111", "#5c2830", "#1b1f4f"]}, "legend": {"legendX": 468, "legendY": 73}}
              }
            },
            {
              "data": {"values": [{}]},
              "mark": {"type": "rect", "fill": "white", "fillOpacity": 0, "stroke": "#111", "strokeWidth": 1.3},
              "encoding": {
                "x": {"datum": -400, "type": "quantitative", "scale": {"domain": [-2466, 11569], "nice": false, "zero": false}, "axis": {"title": "Iteration", "values": [0, 2000, 4000, 6000, 8000, 10000], "format": "d", "offset": -82.05, "titleX": 334, "titleY": 58}},
                "x2": {"datum": 10400},
                "y": {"datum": 0.2864, "type": "quantitative", "scale": {"domain": [0.22424, 0.66136], "nice": false, "zero": false}, "axis": {"title": "Cost", "values": [0.3, 0.35, 0.4, 0.45, 0.5, 0.55, 0.6], "format": ".2f", "offset": -92, "titleX": -58, "titleY": 280}},
                "y2": {"datum": 0.6076}
              }
            },
            {
              "data": {"values": [{}]},
              "mark": {"type": "text", "align": "left", "baseline": "top", "font": "Liberation Serif", "fontSize": 21.5, "lineHeight": 25, "color": "#111"},
              "encoding": {
                "x": {"datum": 1794, "type": "quantitative", "scale": {"domain": [-2466, 11569], "nice": false, "zero": false}, "axis": {"title": "Iteration", "values": [0, 2000, 4000, 6000, 8000, 10000], "format": "d", "offset": -82.05, "titleX": 334, "titleY": 58}},
                "y": {"datum": 0.4417, "type": "quantitative", "scale": {"domain": [0.22424, 0.66136], "nice": false, "zero": false}, "axis": {"title": "Cost", "values": [0.3, 0.35, 0.4, 0.45, 0.5, 0.55, 0.6], "format": ".2f", "offset": -92, "titleX": -58, "titleY": 280}},
                "text": {"value": ["Generally Similar", "Cost Descent Profile"]}
              }
            }
          ]
        }
      ],
      "spacing": 0, "bounds": "flush",
      "resolve": {"scale": {"color": "independent"}, "legend": {"color": "independent"}}
    },
    {
      "hconcat": [
        {
          "width": 633, "height": 31,
          "view": {"stroke": "#1a1a1a", "strokeWidth": 1.6, "fill": "white"},
          "data": {"values": [{"caption": "(Above) Cost Profile for Model Smoothing μ = 0.5"}]},
          "mark": {"type": "text", "align": "left", "baseline": "middle", "dx": -303.5, "dy": 1, "font": "Liberation Serif", "fontSize": 27.3, "fontWeight": "bold", "color": "#111"},
          "encoding": {"text": {"field": "caption", "type": "nominal"}}
        },
        {
          "width": 626, "height": 31,
          "view": {"stroke": "#1a1a1a", "strokeWidth": 1.6, "fill": "white"},
          "data": {"values": [{"caption": "(Above) Cost Profile for Model Smoothing μ = 2"}]},
          "mark": {"type": "text", "align": "left", "baseline": "middle", "dx": -299, "dy": 1, "font": "Liberation Serif", "fontSize": 27.3, "fontWeight": "bold", "color": "#111"},
          "encoding": {"text": {"field": "caption", "type": "nominal"}}
        }
      ],
      "spacing": 0, "bounds": "flush"
    },
    {
      "width": 1259, "height": 42,
      "view": {"stroke": "#1a1a1a", "strokeWidth": 1.6, "fill": "white"},
      "data": {"values": [{"main": "* Results taken from a 2-Layer Neural Network with Mini-Batch Learning, α =", "num": "c.log2", "bar": "————", "den": "R².√(i+1)", "tail": ", c =600"}]},
      "layer": [
        {"mark": {"type": "text", "align": "left", "baseline": "middle", "dx": -612.5, "dy": 1, "font": "Liberation Serif", "fontSize": 27, "fontStyle": "italic", "color": "#111"}, "encoding": {"text": {"field": "main", "type": "nominal"}}},
        {"mark": {"type": "text", "align": "center", "baseline": "middle", "dx": 282.5, "dy": -10, "font": "Liberation Serif", "fontSize": 19, "fontStyle": "italic", "fontWeight": "bold", "color": "#111"}, "encoding": {"text": {"field": "num", "type": "nominal"}}},
        {"mark": {"type": "text", "align": "center", "baseline": "middle", "dx": 282.5, "dy": -2, "font": "Liberation Serif", "fontSize": 16.5, "color": "#111"}, "encoding": {"text": {"field": "bar", "type": "nominal"}}},
        {"mark": {"type": "text", "align": "center", "baseline": "middle", "dx": 282.5, "dy": 12, "font": "Liberation Serif", "fontSize": 15.5, "fontStyle": "italic", "fontWeight": "bold", "color": "#111"}, "encoding": {"text": {"field": "den", "type": "nominal"}}},
        {"mark": {"type": "text", "align": "left", "baseline": "middle", "dx": 315.5, "dy": 1, "font": "Liberation Serif", "fontSize": 27, "color": "#111"}, "encoding": {"text": {"field": "tail", "type": "nominal"}}}
      ]
    }
  ]
}
